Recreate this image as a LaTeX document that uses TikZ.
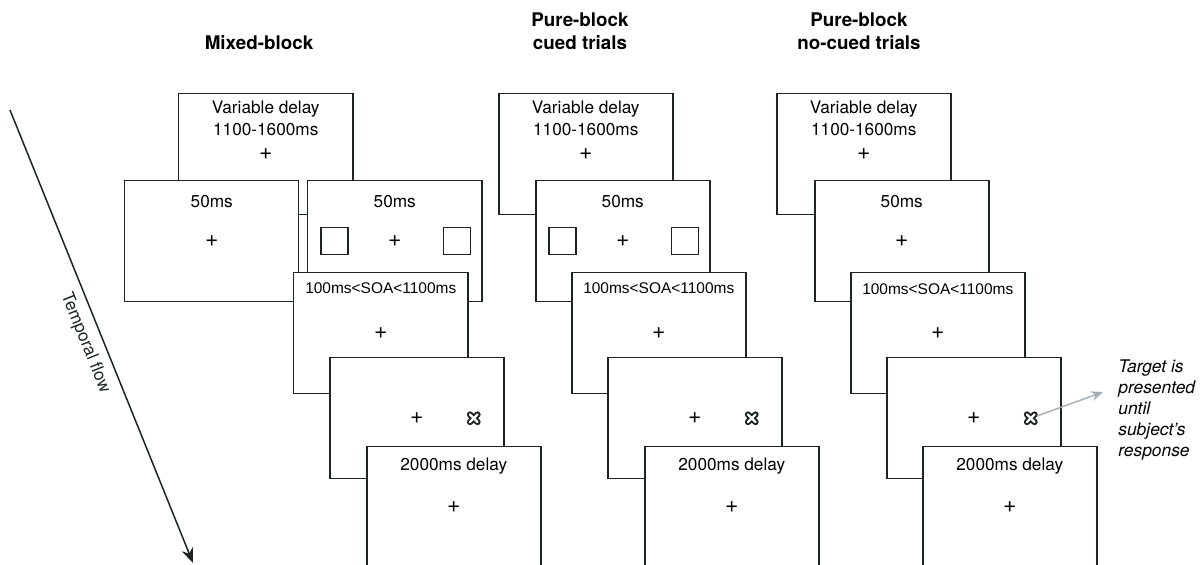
\documentclass[tikz,border=0pt]{standalone}
\usepackage{fontspec}
\setmainfont{TeX Gyre Heros}
\newfontfamily\soafont{Liberation Sans}
\usetikzlibrary{arrows.meta}
\definecolor{frameC}{HTML}{1C2424}
\definecolor{noteC}{HTML}{A3ADB3}
\tikzset{
  screen/.style={draw=frameC, line width=0.85pt, fill=white, anchor=north west,
    inner sep=0pt, minimum width=3.48cm, minimum height=2.42cm},
  txt/.style={font=\fontsize{9.8}{12.5}\selectfont, align=center, inner sep=0pt},
  soa/.style={font=\soafont\fontsize{8.8}{10}\selectfont, inner sep=0pt},
  fixc/.style={font=\fontsize{13}{13}\selectfont, inner sep=0pt},
  cue/.style={draw=frameC, line width=0.85pt, minimum size=0.54cm, inner sep=0pt},
  tgt/.style={minimum size=0.24cm, inner sep=0pt},
  ttl/.style={font=\fontsize{10.7}{13}\selectfont\bfseries, align=center},
  note/.style={font=\fontsize{9.9}{11.9}\selectfont\itshape, align=left, inner sep=0pt},
  pics/xtarget/.style={code={
    \draw[frameC, line width=3.6pt, line cap=round]
      (-0.075,-0.075) -- (0.075,0.075) (-0.075,0.075) -- (0.075,-0.075);
    \draw[white, line width=1.3pt, line cap=round]
      (-0.075,-0.075) -- (0.075,0.075) (-0.075,0.075) -- (0.075,-0.075);}}
}
\begin{document}
\begin{tikzpicture}
    \useasboundingbox (0,0) rectangle (24,11.28);
    % column titles
    \node[ttl] (tMixed) at (5.18,10.42) {Mixed-block};
    \node[ttl] (tCued) at (11.60,10.65) {Pure-block\\cued trials};
    \node[ttl] (tNoCued) at (17.18,10.65) {Pure-block\\no-cued trials};

    % temporal flow
    \coordinate (flowS) at (0.20,9.08);
    \coordinate (flowE) at (3.86,0.02);
    \draw[frameC, line width=0.85pt, -{Stealth[length=3mm,width=2.4mm]}]
        (flowS) -- node[txt, midway, below=0.17cm, sloped] (flowT) {Temporal flow} (flowE);

    % mixed block
    \node[screen] (mDelay) at (3.56,9.42) {};
    \node[txt] (mDelayT) at ([yshift=-0.5cm]mDelay.north) {Variable delay\\1100-1600ms};
    \node[fixc] (mDelayF) at (mDelay.center) {+};
    \node[screen] (mNoCue) at (2.48,7.68) {};
    \node[txt] (mNoCueT) at ([yshift=-0.44cm]mNoCue.north) {50ms};
    \node[fixc] (mNoCueF) at (mNoCue.center) {+};
    \node[screen] (mCue) at (6.14,7.68) {};
    \node[txt] (mCueT) at ([yshift=-0.44cm]mCue.north) {50ms};
    \node[fixc] (mCueF) at (mCue.center) {+};
    \node[cue] (mCueL) at ([xshift=0.55cm]mCue.west) {};
    \node[cue] (mCueR) at ([xshift=-0.51cm]mCue.east) {};
    \node[screen] (mSoa) at (5.86,5.84) {};
    \node[soa] (mSoaT) at ([yshift=-0.32cm]mSoa.north) {100ms<SOA<1100ms};
    \node[fixc] (mSoaF) at (mSoa.center) {+};
    \node[screen] (mTarget) at (6.58,4.14) {};
    \node[fixc] (mTargetF) at (mTarget.center) {+};
    \node[tgt] (mTargetX) at ([xshift=1.14cm]mTarget.center) {};
    \pic at (mTargetX) {xtarget};
    \node[screen] (mWait) at (7.32,2.36) {};
    \node[txt] (mWaitT) at ([yshift=-0.4cm]mWait.north) {2000ms delay};
    \node[fixc] (mWaitF) at (mWait.center) {+};

    % pure block, cued
    \node[screen] (cDelay) at (9.96,9.42) {};
    \node[txt] (cDelayT) at ([yshift=-0.5cm]cDelay.north) {Variable delay\\1100-1600ms};
    \node[fixc] (cDelayF) at (cDelay.center) {+};
    \node[screen] (cCue) at (10.70,7.68) {};
    \node[txt] (cCueT) at ([yshift=-0.44cm]cCue.north) {50ms};
    \node[fixc] (cCueF) at (cCue.center) {+};
    \node[cue] (cCueL) at ([xshift=0.55cm]cCue.west) {};
    \node[cue] (cCueR) at ([xshift=-0.51cm]cCue.east) {};
    \node[screen] (cSoa) at (11.42,5.84) {};
    \node[soa] (cSoaT) at ([yshift=-0.32cm]cSoa.north) {100ms<SOA<1100ms};
    \node[fixc] (cSoaF) at (cSoa.center) {+};
    \node[screen] (cTarget) at (12.14,4.14) {};
    \node[fixc] (cTargetF) at (cTarget.center) {+};
    \node[tgt] (cTargetX) at ([xshift=1.14cm]cTarget.center) {};
    \pic at (cTargetX) {xtarget};
    \node[screen] (cWait) at (12.88,2.36) {};
    \node[txt] (cWaitT) at ([yshift=-0.4cm]cWait.north) {2000ms delay};
    \node[fixc] (cWaitF) at (cWait.center) {+};

    % pure block, no cue
    \node[screen] (nDelay) at (15.52,9.42) {};
    \node[txt] (nDelayT) at ([yshift=-0.5cm]nDelay.north) {Variable delay\\1100-1600ms};
    \node[fixc] (nDelayF) at (nDelay.center) {+};
    \node[screen] (nNoCue) at (16.28,7.68) {};
    \node[txt] (nNoCueT) at ([yshift=-0.44cm]nNoCue.north) {50ms};
    \node[fixc] (nNoCueF) at (nNoCue.center) {+};
    \node[screen] (nSoa) at (17.00,5.84) {};
    \node[soa] (nSoaT) at ([yshift=-0.34cm]nSoa.north) {100ms<SOA<1100ms};
    \node[fixc] (nSoaF) at (nSoa.center) {+};
    \node[screen] (nTarget) at (17.72,4.14) {};
    \node[fixc] (nTargetF) at (nTarget.center) {+};
    \node[tgt] (nTargetX) at ([xshift=1.14cm]nTarget.center) {};
    \pic at (nTargetX) {xtarget};
    \node[screen] (nWait) at (18.44,2.36) {};
    \node[txt] (nWaitT) at ([yshift=-0.4cm]nWait.north) {2000ms delay};
    \node[fixc] (nWaitF) at (nWait.center) {+};

    % target note
    \node[note, anchor=west] (note) at (22.36,3.08) {Target is\\presented\\until\\subject's\\response};
    \coordinate (noteTip) at (22.06,3.44);
    \draw[noteC, line width=0.8pt, -{Stealth[length=2.4mm,width=2mm]}] (nTargetX) -- (noteTip);
\end{tikzpicture}
\end{document}
